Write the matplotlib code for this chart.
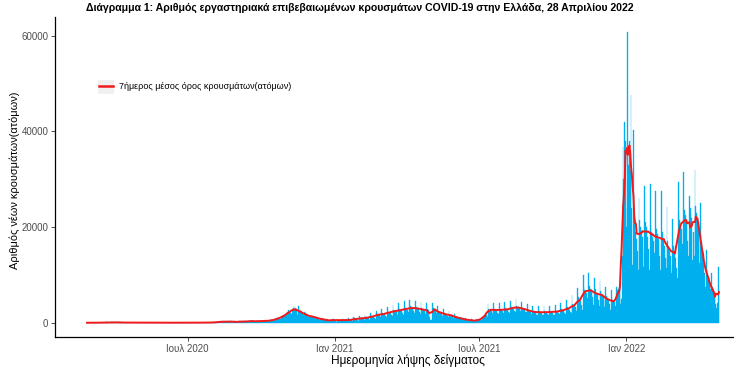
import numpy as np
import pandas as pd
import matplotlib
matplotlib.use("Agg")
import matplotlib.pyplot as plt

plt.rcParams['font.family'] = ['Liberation Sans', 'DejaVu Sans']

# Daily confirmed cases by sample date (one list per month)
feb20 = [1, 2, 0, 4]
mar20 = [0, 3, 2, 2, 1, 10, 14, 13, 11, 16, 10, 30, 32, 38, 45, 15, 56, 31, 46, 84,
         71, 95, 70, 60, 48, 73, 71, 75, 96, 62, 58]
apr20 = [102, 78, 53, 91, 75, 61, 62, 79, 52, 40, 38, 29, 34, 20, 21, 25, 25, 12, 16, 20,
         156, 15, 26, 18, 12, 15, 8, 15, 20, 12]
may20 = [15, 10, 13, 6, 2, 16, 5, 10, 10, 6, 11, 12, 8, 8, 9, 6, 5, 2, 5, 4,
         12, 2, 5, 3, 4, 10, 3, 1, 4, 7, 9]
jun20 = [6, 3, 17, 10, 6, 5, 15, 4, 14, 8, 4, 15, 8, 12, 27, 16, 7, 12, 6, 51,
         20, 12, 14, 12, 12, 13, 15, 12, 16, 8]
jul20 = [15, 14, 9, 14, 11, 18, 19, 41, 23, 24, 30, 27, 17, 20, 12, 25, 30, 24, 20, 10,
         16, 26, 27, 36, 33, 24, 21, 42, 62, 43, 33]
aug20 = [36, 110, 41, 48, 106, 121, 153, 124, 202, 151, 168, 262, 186, 254, 230, 203, 217, 269, 169, 234,
         284, 210, 179, 284, 250, 182, 293, 172, 208, 168, 244]
sep20 = [159, 158, 208, 285, 241, 267, 301, 224, 181, 264, 273, 250, 214, 281, 340, 338, 374, 326, 279, 298,
         415, 453, 218, 215, 378, 314, 220, 411, 412, 291]
oct20 = [400, 350, 300, 280, 450, 500, 420, 400, 380, 350, 300, 500, 550, 600, 580, 600, 550, 450, 700, 850,
         950, 1050, 1000, 900, 800, 1100, 1300, 1500, 1600, 1700, 1400]
nov20 = [1200, 1800, 2300, 2600, 2300, 2400, 2100, 1900, 2700, 3100, 3600, 2800, 3000, 2400, 1700, 2300,
         3400, 2700, 2400, 2200, 1700, 1800, 1700, 2300, 2100, 1800, 1600, 1500, 1100, 1300]
dec20 = [1600, 1500, 1450, 1300, 1200, 1000, 1100, 1250, 1150, 1050, 900, 800, 650, 750, 1000, 850,
         800, 750, 650, 500, 450, 650, 700, 600, 450, 350, 300, 550, 750, 650, 700]
jan21 = [500, 350, 250, 800, 650, 600, 550, 500, 400, 300, 850, 650, 600, 550, 500, 400,
         300, 900, 700, 650, 600, 550, 450, 350, 1200, 900, 850, 800, 750, 600, 450]
feb21 = [1400, 1050, 1000, 950, 900, 750, 550, 1600, 1200, 1100, 1050, 1000, 850, 600,
         2000, 1500, 1400, 1300, 1250, 1000, 750, 2500, 1900, 1800, 1700, 1600, 1300, 1000]
mar21 = [2800, 2000, 1900, 1800, 1700, 1500, 1250, 3300, 2350, 2200, 2100, 2000, 1700, 1400,
         3800, 2650, 2500, 2400, 2250, 1950, 1600, 4100, 2900, 2700, 2600, 2450, 2100, 1700,
         4500, 3150, 3000]
apr21 = [2850, 2700, 2300, 1800, 4700, 3400, 3200, 3050, 2900, 2450, 2000, 4600, 3300, 3100, 2950,
         2800, 2350, 1900, 4300, 3000, 2800, 2700, 2550, 2150, 1750, 4100, 2900, 2600, 2300, 1300]
may21 = [600, 500, 4200, 3300, 3000, 2800, 2600, 2100, 1600, 3400, 2400, 2250, 2150, 2050, 1750, 1400,
         2800, 1950, 1850, 1750, 1650, 1400, 1200, 2400, 1700, 1600, 1500, 1400, 1200, 1050, 1800]
jun21 = [1250, 1200, 1100, 1050, 900, 750, 1300, 950, 900, 800, 750, 650, 600, 950, 650,
         600, 550, 550, 450, 450, 700, 500, 450, 420, 400, 370, 310, 700, 600, 600]
jul21 = [650, 700, 700, 600, 1200, 1300, 1400, 1600, 1700, 1600, 1200, 4000, 2900, 2700, 2600, 2500,
         2100, 2100, 4100, 2850, 2650, 2550, 2450, 2050, 1900, 4200, 2900, 2700, 2600, 2500, 2100]
aug21 = [1900, 4300, 3000, 2800, 2700, 2600, 2200, 2000, 4600, 3350, 3150, 3000, 2900, 2450, 2250, 4900,
         3400, 3200, 3050, 2900, 2500, 2450, 4400, 3100, 2900, 2800, 2650, 2250, 2200, 4000, 2700]
sep21 = [2500, 2350, 2250, 1900, 1800, 3600, 2450, 2250, 2100, 2000, 1700, 1650, 3500, 2400, 2200,
         2050, 1950, 1650, 1650, 3450, 2450, 2200, 2100, 1900, 1700, 1600, 3600, 2450, 2250, 2100]
oct21 = [2000, 1700, 1650, 3800, 2550, 2350, 2200, 2100, 1800, 1650, 4200, 2850, 2600, 2450, 2300, 2000,
         1800, 4800, 3300, 3000, 2850, 2700, 2300, 2050, 5700, 4000, 3700, 3500, 3300, 2800, 2550]
nov21 = [7300, 5400, 4900, 4700, 4500, 3700, 2600, 10000, 7500, 6900, 6600, 6300, 5200, 3600, 10300,
         7700, 7100, 6800, 6500, 5300, 3700, 9300, 7000, 6400, 6100, 5800, 4800, 3400, 8800, 6600]
dec21 = [6100, 5800, 5500, 4500, 3200, 7500, 5600, 5200, 4900, 4700, 3900, 2700, 6800, 5100, 4700, 4500,
         4300, 3500, 2500, 7500, 6800, 7000, 7400, 8000, 4000, 5000, 14000, 36800, 30000, 42000, 38000]
jan22 = [20000, 24000, 60800, 33000, 38000, 32000, 47700, 24000, 12000, 40400, 22000, 20000, 19000, 17500,
         15000, 11000, 26000, 21500, 20000, 19000, 18000, 15500, 11600, 28500, 21000, 20000, 19000, 18000,
         15500, 11000, 29000]
feb22 = [20500, 19000, 18000, 17000, 14500, 11500, 27600, 19500, 18500, 17500, 16500, 14000, 11000, 27600,
         19000, 18000, 17000, 16000, 13500, 11400, 24100, 17000, 16000, 15000, 14000, 12000, 10400, 21700]
mar22 = [16000, 15000, 14500, 13500, 11500, 9300, 29400, 22500, 21500, 20500, 19500, 16500, 13600, 31500,
         23500, 22500, 21500, 20500, 17000, 13900, 26600, 24000, 23000, 22000, 13100, 19000, 14000, 31900,
         24500, 23000, 22000]
apr22 = [21000, 17500, 12500, 25000, 17000, 15000, 13500, 12500, 10500, 7400, 15200, 11000, 9800, 9000,
         8500, 7000, 4400, 10300, 7500, 7000, 6500, 6000, 4000, 3000, 4100, 11600, 7000]

months = [feb20, mar20, apr20, may20, jun20, jul20, aug20, sep20, oct20, nov20, dec20,
          jan21, feb21, mar21, apr21, may21, jun21, jul21, aug21, sep21, oct21, nov21, dec21,
          jan22, feb22, mar22, apr22]
start_date = "2020-02-26"

tick_dates = ["2020-07-01", "2021-01-01", "2021-07-01", "2022-01-01"]
tick_labels = ["Ιουλ 2020", "Ιαν 2021", "Ιουλ 2021", "Ιαν 2022"]
y_ticks = [0, 20000, 40000, 60000]

title = "Διάγραμμα 1: Αριθμός εργαστηριακά επιβεβαιωμένων κρουσμάτων COVID-19 στην Ελλάδα, 28 Απριλίου 2022"
legend_label = "7ήμερος μέσος όρος κρουσμάτων(ατόμων)"

cases = pd.Series(np.concatenate(months).astype(float))
cases.index = pd.date_range(start_date, periods=len(cases), freq="D")
avg7 = cases.rolling(7, center=True, min_periods=1).mean()

W, H = 734, 371
fig = plt.figure(figsize=(W / 100, H / 100), dpi=100)
# panel runs past the right edge, as in the (cropped) reference
ax = fig.add_axes([55 / W, (H - 337.3) / H, (751 - 55) / W, (337.3 - 17.4) / H])

BLUE = "#00B0EE"
ax.bar(cases.index, cases.values, width=1.0, color=BLUE, edgecolor=BLUE, linewidth=0.25)
ax.plot(avg7.index, avg7.values, color="#F21A1A", lw=1.4, label=legend_label, zorder=3)

# ggplot-like 5% expansion
span = (cases.index[-1] - cases.index[0]) + pd.Timedelta(days=1)
pad = span * 0.05
ax.set_xlim(cases.index[0] - pd.Timedelta(hours=12) - pad,
            cases.index[-1] + pd.Timedelta(hours=12) + pad)
ymax = cases.max()
ax.set_ylim(-0.05 * ymax, 1.05 * ymax)

ax.set_xticks(pd.to_datetime(tick_dates))
ax.set_xticklabels(tick_labels)
ax.set_yticks(y_ticks)
ax.set_yticklabels([str(v) for v in y_ticks])
ax.tick_params(axis="both", colors="#333333", labelcolor="#4D4D4D", labelsize=7,
               length=2.8, width=0.6, pad=2)

for side in ["top", "right"]:
    ax.spines[side].set_visible(False)
for side in ["left", "bottom"]:
    ax.spines[side].set_linewidth(0.9)
    ax.spines[side].set_color("black")

pw, ph = 751 - 55, 337.3 - 17.4
ax.set_xlabel("Ημερομηνία λήψης δείγματος", fontsize=8.6)
ax.set_ylabel("Αριθμός νέων κρουσμάτων(ατόμων)", fontsize=7.9)
ax.xaxis.set_label_coords((408 - 55) / pw, -(354 - 337.3) / ph)
ax.yaxis.set_label_coords(-(55 - 20) / pw, (337.3 - 180) / ph)

# grey key background behind the legend line
ax.add_patch(plt.Rectangle((97.7 / W, (H - 94) / H), (114.3 - 97.7) / W, 14 / H,
                           transform=fig.transFigure, facecolor="#F0F0F0", edgecolor="none",
                           zorder=4, clip_on=False))
leg = ax.legend(loc="center left", bbox_to_anchor=((99.3 - 55) / pw, (337.3 - 86.5) / ph),
                frameon=False, fontsize=6.45, handlelength=1.5, handletextpad=0.7,
                borderpad=0, borderaxespad=0)
leg.set_zorder(5)
for h in leg.legend_handles:
    h.set_linewidth(1.8)

fig.text(360 / W, 1 - 7.5 / H, title, ha="center", va="center", fontsize=7.55, fontweight="bold")

fig.savefig("out.png", dpi=100)
